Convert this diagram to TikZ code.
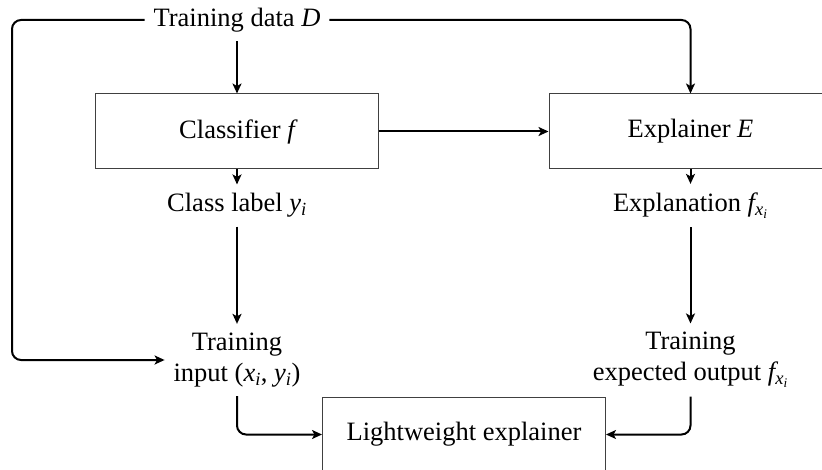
\documentclass[tikz,border=0pt]{standalone}
\usepackage{fontspec}
\setmainfont{Liberation Serif}
\usetikzlibrary{arrows.meta}
\begin{document}
\begin{tikzpicture}[x=1pt,y=-1pt,
  every node/.style={font=\fontsize{26.5}{31}\selectfont, inner sep=8.8pt},
  box/.style={draw=black!75, line width=1pt, minimum width=283pt, minimum height=75pt},
  lbl/.style={align=center},
  conn/.style={line width=2pt, -{Stealth[length=10pt,width=9pt,inset=2.5pt]}, rounded corners=9pt}
  ]
\useasboundingbox (0,0) rectangle (822,470);
\clip (0,0) rectangle (822,470);

\node (D) at (237,20) {Training data $\mathit{D}$};
\node[box] (C) at (237,131.5) {Classifier $\mathit{f}$};
\node[box] (E) at (690.5,131.5) {Explainer $\mathit{E}$};
\node (cl) at (237,205.5) {Class label $\mathit{y_i}$};
\node (ex) at (690.5,205.5) {Explanation $\mathit{f_{x_i}}$};
\node[lbl] (tin) at (237,360) {Training\\input ($\mathit{x_i}$, $\mathit{y_i}$)};
\node[lbl] (teo) at (690.5,360) {Training\\expected output $\mathit{f_{x_i}}$};
\node[box] (lw) at (464,434.5) {Lightweight explainer};

\coordinate (lc) at (12,20);

\draw[conn] (D.south) -- (C.north);
\draw[conn] (D.west) -- (lc) |- (tin.west);
\draw[conn] (D.east) -| (E.north);
\draw[conn] (C.east) -- (E.west);
\draw[conn] (C.south) -- (cl.north);
\draw[conn] (E.south) -- (ex.north);
\draw[conn] (cl.south) -- (tin.north);
\draw[conn] (ex.south) -- (teo.north);
\draw[conn] (tin.south) |- (lw.west);
\draw[conn] (teo.south) |- (lw.east);
\end{tikzpicture}
\end{document}
